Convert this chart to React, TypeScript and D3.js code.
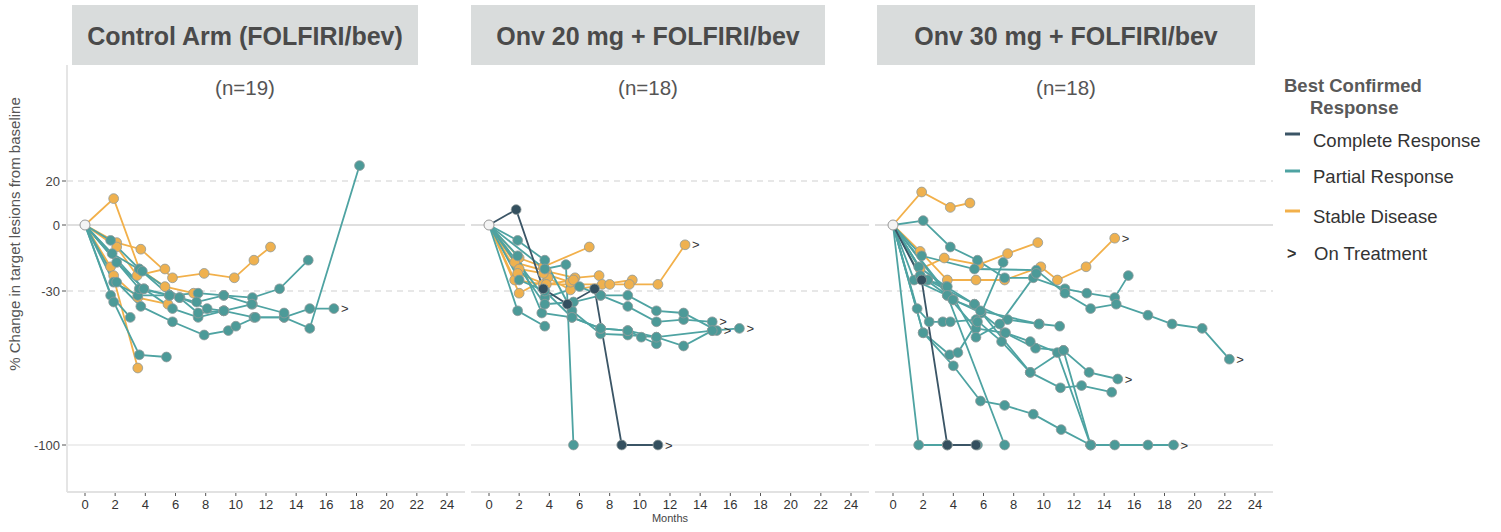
import React from 'react';
import * as d3 from 'd3';

type Resp = 'CR' | 'PR' | 'SD';
type Patient = { resp: Resp; onTx?: boolean; pts: [number, number][] };

const panelTitles = ['Control Arm (FOLFIRI/bev)', 'Onv 20 mg + FOLFIRI/bev', 'Onv 30 mg + FOLFIRI/bev'];
const panelCounts = ['(n=19)', '(n=18)', '(n=18)'];
const monthTicks = [0, 2, 4, 6, 8, 10, 12, 14, 16, 18, 20, 22, 24];
const yTicks = [20, 0, -30, -100];
const dashedLevels = [20, -30];
const solidLevels = [0, -100];

// control arm
const controlArm: Patient[] = [
  { resp: 'SD', pts: [[0, 0], [1.9, 12], [3.6, -20], [5.3, -28], [7.2, -31]] },
  { resp: 'SD', pts: [[0, 0], [2.1, -8], [3.7, -11], [5.8, -24], [7.9, -22], [9.9, -24], [11.2, -16], [12.3, -10]] },
  { resp: 'SD', pts: [[0, 0], [1.7, -19], [3.5, -65]] },
  { resp: 'SD', pts: [[0, 0], [1.9, -23], [3.5, -33], [5.5, -36]] },
  { resp: 'SD', pts: [[0, 0], [2.1, -10], [3.45, -23], [5.3, -20]] },
  { resp: 'PR', pts: [[0, 0], [1.7, -7], [3.6, -20], [5.6, -32], [7.5, -31], [9.2, -32], [11.1, -33], [12.9, -29], [14.8, -16]] },
  { resp: 'PR', pts: [[0, 0], [1.8, -13], [3.8, -21], [6.3, -33], [8.1, -38], [9.2, -39], [11.1, -36]] },
  { resp: 'PR', pts: [[0, 0], [2.1, -17], [3.9, -29], [5.8, -38], [7.5, -42], [9.2, -39], [11.2, -42], [13.2, -42], [14.9, -47], [18.2, 27]] },
  { resp: 'PR', pts: [[0, 0], [1.9, -26], [3.5, -32], [5.6, -32]] },
  { resp: 'PR', pts: [[0, 0], [1.7, -32], [3.0, -42]] },
  { resp: 'PR', pts: [[0, 0], [1.9, -35], [3.6, -59], [5.4, -60]] },
  { resp: 'PR', onTx: true, pts: [[0, 0], [2.1, -26], [3.7, -37], [5.8, -44], [7.9, -50], [9.5, -48], [10, -46], [11.3, -42], [13.2, -42], [14.9, -38], [16.5, -38]] },
  { resp: 'PR', pts: [[0, 0], [3.6, -29], [5.6, -32], [7.4, -35], [9.2, -32], [11.05, -36], [13.2, -40]] },
  { resp: 'PR', pts: [[0, 0], [3.9, -29], [6.25, -33], [7.5, -40], [9.2, -39]] },
];

// onvansertib 20 mg
const onv20: Patient[] = [
  { resp: 'SD', pts: [[0, 0], [2, -15], [3.6, -19], [6.65, -10]] },
  { resp: 'SD', pts: [[0, 0], [1.7, -17], [3.8, -21], [5.7, -24], [7.3, -23]] },
  { resp: 'SD', pts: [[0, 0], [1.7, -25], [3.6, -27], [5.6, -27], [7.5, -27], [9.5, -25]] },
  { resp: 'SD', onTx: true, pts: [[0, 0], [2, -31], [3.9, -24], [5.4, -29.5], [8, -27], [9.3, -27], [11.2, -27], [13, -9]] },
  { resp: 'SD', pts: [[0, 0], [2, -20], [3.6, -22], [5.4, -26]] },
  { resp: 'SD', pts: [[0, 0], [1.9, -22], [3.8, -27], [5.6, -25]] },
  { resp: 'PR', pts: [[0, 0], [1.9, -7], [3.7, -16], [5.5, -39], [7.4, -49.5], [9.2, -50], [11.1, -51], [12.9, -55], [14.8, -48]] },
  { resp: 'PR', pts: [[0, 0], [3.7, -20], [5.1, -18], [5.6, -100]] },
  { resp: 'PR', pts: [[0, 0], [1.9, -39], [3.7, -46]] },
  { resp: 'PR', pts: [[0, 0], [1.9, -14], [3.5, -40], [5.5, -42], [7.4, -47], [9.2, -48], [10.1, -51], [11.1, -54]] },
  { resp: 'PR', onTx: true, pts: [[0, 0], [3.7, -33], [6, -28], [7.4, -32], [9.2, -37], [11.1, -44], [12.9, -43], [14.8, -44]] },
  { resp: 'PR', onTx: true, pts: [[0, 0], [3.7, -36], [5.6, -35], [7.4, -32], [9.2, -32], [11.1, -39], [12.9, -40], [15.1, -48]] },
  { resp: 'PR', onTx: true, pts: [[0, 0], [2, -25], [3.7, -30], [5.5, -42], [7.4, -47], [9.2, -48], [11.1, -51], [14.8, -48], [16.6, -47]] },
  { resp: 'CR', onTx: true, pts: [[0, 0], [1.8, 7], [3.6, -29], [5.2, -36], [7.0, -29], [8.8, -100], [11.2, -100]] },
];

// onvansertib 30 mg
const onv30: Patient[] = [
  { resp: 'SD', pts: [[0, 0], [1.9, 15], [3.8, 8], [5.1, 10]] },
  { resp: 'SD', onTx: true, pts: [[0, 0], [1.8, -12], [3.6, -25], [5.5, -25], [7.4, -25], [9.8, -19], [10.9, -25], [12.8, -19], [14.7, -6]] },
  { resp: 'SD', pts: [[0, 0], [1.8, -20], [3.4, -15], [5.7, -18], [7.6, -13], [9.6, -8]] },
  { resp: 'PR', pts: [[0, 0], [2, 2], [3.8, -10], [5.6, -16], [7.4, -24], [9.3, -24], [11.4, -29], [12.85, -31], [14.7, -33], [15.6, -23]] },
  { resp: 'PR', onTx: true, pts: [[0, 0], [1.9, -14], [5.4, -20], [9.5, -20.5], [11.4, -31], [13.1, -38], [14.8, -36], [16.9, -41], [18.5, -45], [20.5, -47], [22.3, -61]] },
  { resp: 'PR', pts: [[0, 0], [1.7, -19], [3.5, -28], [5.4, -36], [7.6, -43], [9.7, -45], [11.05, -46]] },
  { resp: 'PR', pts: [[0, 0], [1.4, -25], [3.6, -32], [5.5, -47], [7.4, -49], [9.45, -56], [11.3, -57], [13.1, -100]] },
  { resp: 'PR', onTx: true, pts: [[0, 0], [1.8, -23], [4.0, -34], [5.85, -40], [7.46, -49], [9.1, -53], [10.9, -58], [13.1, -100], [14.7, -100], [16.9, -100], [18.6, -100]] },
  { resp: 'PR', pts: [[0, 0], [2.3, -25], [3.6, -28], [5.5, -51], [7.07, -45], [9.5, -22]] },
  { resp: 'PR', pts: [[0, 0], [1.6, -38], [2.4, -44], [3.3, -44], [3.8, -44], [5.5, -43], [7.2, -53], [9.1, -67], [11.1, -74], [12.5, -73], [14.5, -76]] },
  { resp: 'PR', pts: [[0, 0], [2, -49], [3.75, -59], [4.3, -58], [5.6, -44], [7.3, -17]] },
  { resp: 'PR', pts: [[0, 0], [2, -49], [4.0, -64], [5.8, -80], [7.4, -82], [9.3, -86], [11.15, -93], [13.1, -100]] },
  { resp: 'PR', pts: [[0, 0], [1.7, -100], [3.6, -100], [5.6, -100]] },
  { resp: 'PR', pts: [[0, 0], [3.6, -32], [7.4, -100]] },
  { resp: 'PR', onTx: true, pts: [[0, 0], [2.3, -25], [5.4, -36], [9.1, -67], [11.3, -57], [13, -67], [14.9, -70]] },
  { resp: 'PR', pts: [[0, 0], [3.97, -34], [5.8, -39], [9.67, -45]] },
  { resp: 'CR', pts: [[0, 0], [1.9, -25], [3.6, -100], [5.5, -100]] },
];

const panels = [controlArm, onv20, onv30];

const legendLabels = ['Complete Response', 'Partial Response', 'Stable Disease'];
const legendKeys: Resp[] = ['CR', 'PR', 'SD'];

const lineColor: Record<Resp, string> = { CR: '#3b5566', PR: '#4ea3a2', SD: '#f2b04a' };
const dotColor: Record<Resp, string> = { CR: '#34505f', PR: '#4c9a98', SD: '#efb14f' };

const W = 1501, H = 532;
const panelLeft = [67, 471, 875];
const panelW = 398;
const top = 65, bottom = 492;
const boxes = [[72, 418], [471, 825], [877, 1255]];
const font = "'Liberation Sans', Arial, sans-serif";

const y = d3.scaleLinear().domain([20, -100]).range([181, 445]);

function Panel({ idx, data }: { idx: number; data: Patient[] }) {
  const left = panelLeft[idx];
  const x = d3.scaleLinear().domain([0, 24]).range([left + 18, left + 380]);
  const line = d3.line<[number, number]>().x(d => x(d[0])).y(d => y(d[1]));
  const [bx0, bx1] = boxes[idx];
  return (
    <g>
      <rect x={bx0} y={5} width={bx1 - bx0} height={60} fill="#d9dcdc" />
      <text x={(bx0 + bx1) / 2} y={45} textAnchor="middle" fontSize={25} fontWeight="bold" fill="#4a4a4a">{panelTitles[idx]}</text>
      <text x={(bx0 + bx1) / 2} y={95} textAnchor="middle" fontSize={20.5} fill="#555">{panelCounts[idx]}</text>
      {solidLevels.map(v => (
        <line key={'s' + v} x1={left} x2={left + panelW} y1={y(v)} y2={y(v)} stroke={v === 0 ? '#d4d4d4' : '#e8e8e8'} strokeWidth={1.5} />
      ))}
      {dashedLevels.map(v => (
        <line key={'d' + v} x1={left} x2={left + panelW} y1={y(v)} y2={y(v)} stroke="#cfcfcf" strokeWidth={1.2} strokeDasharray="6,5" />
      ))}
      <line x1={left} x2={left + panelW} y1={bottom} y2={bottom} stroke="#e2e2e2" strokeWidth={2} />
      {monthTicks.map(m => (
        <g key={m}>
          <line x1={x(m)} x2={x(m)} y1={bottom + 1} y2={bottom + 4} stroke="#555" strokeWidth={1} />
          <text x={x(m)} y={509} textAnchor="middle" fontSize={13} fill="#333">{m}</text>
        </g>
      ))}
      {data.map((p, i) => (
        <path key={'l' + i} d={line(p.pts) || ''} fill="none" stroke={lineColor[p.resp]} strokeWidth={1.8} />
      ))}
      {data.map((p, i) => (
        <g key={'p' + i}>
          {p.pts.slice(1).map((d, j) => (
            <circle key={j} cx={x(d[0])} cy={y(d[1])} r={4.9} fill={dotColor[p.resp]} stroke="#8f9a9a" strokeWidth={0.8} />
          ))}
          {p.onTx && (
            <text x={x(p.pts[p.pts.length - 1][0]) + 7} y={y(p.pts[p.pts.length - 1][1]) + 4.5} fontSize={13} fill="#333">&gt;</text>
          )}
        </g>
      ))}
      <circle cx={x(0)} cy={y(0)} r={5} fill="#f4f4f4" stroke="#999" strokeWidth={1} />
    </g>
  );
}

export default function App() {
  return (
    <svg width={W} height={H} style={{ position: 'absolute', left: 0, top: 0, background: '#fff' }} fontFamily={font}>
      <rect width={W} height={H} fill="#fff" />
      <line x1={67} x2={67} y1={top} y2={bottom} stroke="#dcdcdc" strokeWidth={1.5} />
      {yTicks.map(v => (
        <g key={v}>
          <line x1={62} x2={66} y1={y(v)} y2={y(v)} stroke="#555" strokeWidth={1} />
          <text x={60} y={y(v) + 4.5} textAnchor="end" fontSize={13} fill="#444">{v}</text>
        </g>
      ))}
      <text transform="translate(20,234) rotate(-90)" textAnchor="middle" fontSize={15} fill="#555">
        % Change in target lesions from baseline
      </text>
      {panels.map((d, i) => <Panel key={i} idx={i} data={d} />)}
      <text x={670} y={522} textAnchor="middle" fontSize={11} fill="#444">Months</text>
      <g>
        <text x={1284} y={92} fontSize={18.5} fontWeight="bold" fill="#595959">Best Confirmed</text>
        <text x={1310} y={114} fontSize={18.5} fontWeight="bold" fill="#595959">Response</text>
        {legendKeys.map((k, i) => (
          <g key={k}>
            <line x1={1285} x2={1300} y1={[134, 171, 211][i]} y2={[134, 171, 211][i]} stroke={lineColor[k]} strokeWidth={3} />
            <text x={1313} y={[147, 183, 223][i]} fontSize={18.5} fill="#333">{legendLabels[i]}</text>
          </g>
        ))}
        <text x={1287} y={259} fontSize={16} fontWeight="bold" fill="#333">&gt;</text>
        <text x={1314} y={260} fontSize={18.5} fill="#333">On Treatment</text>
      </g>
    </svg>
  );
}
